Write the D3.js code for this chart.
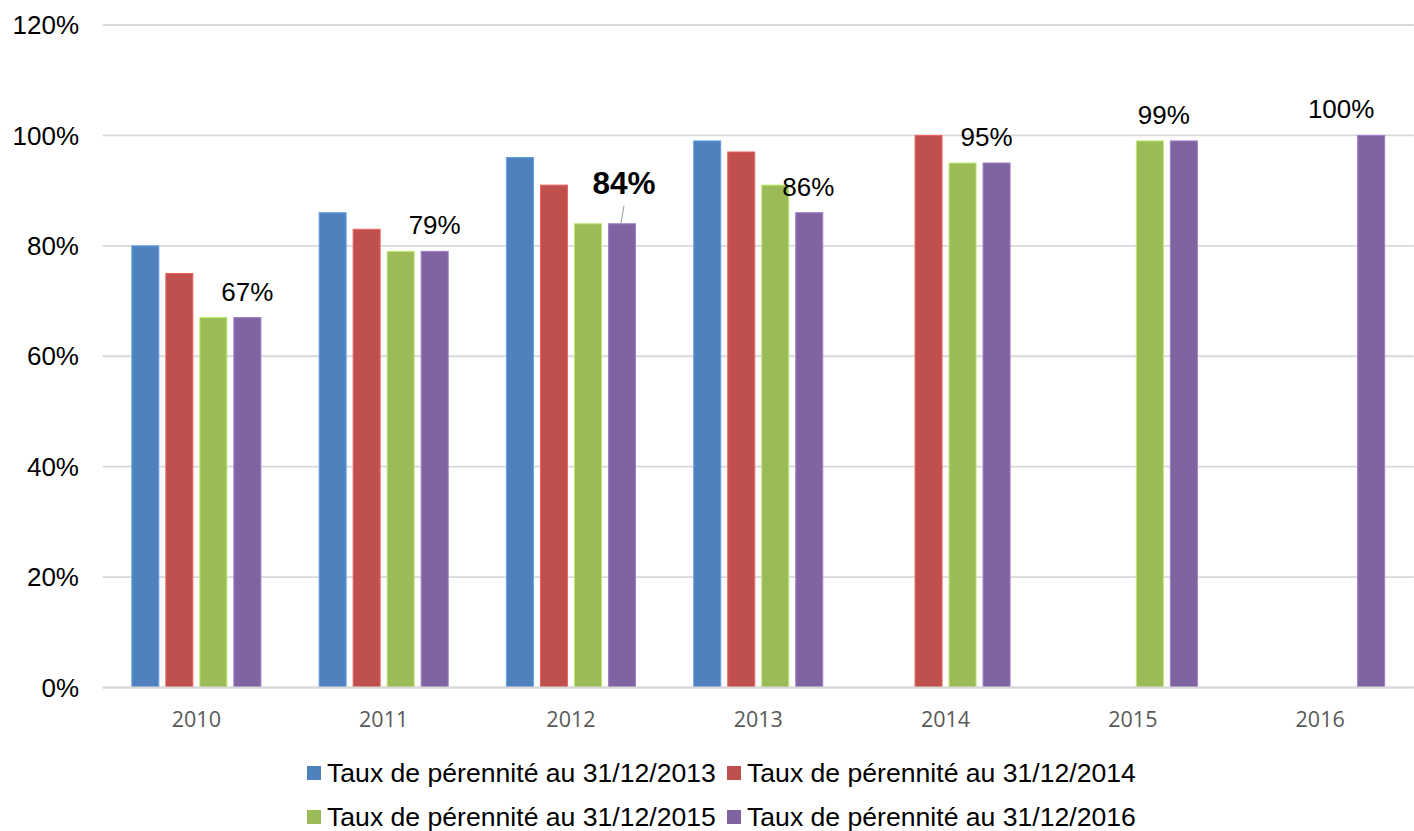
<!DOCTYPE html>
<html>
<head>
<meta charset="utf-8">
<script src="https://cdn.jsdelivr.net/npm/d3@7"></script>
<style>
  body { margin: 0; background: #fff; }
  svg { display: block; font-family: "Liberation Sans", Arial, sans-serif; }
</style>
</head>
<body>
<div id="chart"></div>
<script>
const years = ["2010", "2011", "2012", "2013", "2014", "2015", "2016"];
const seriesNames = [
  "Taux de pérennité au 31/12/2013",
  "Taux de pérennité au 31/12/2014",
  "Taux de pérennité au 31/12/2015",
  "Taux de pérennité au 31/12/2016"
];
const rate2013 = [0.80, 0.86, 0.96, 0.99, null, null, null];
const rate2014 = [0.75, 0.83, 0.91, 0.97, 1.00, null, null];
const rate2015 = [0.67, 0.79, 0.84, 0.91, 0.95, 0.99, null];
const rate2016 = [0.67, 0.79, 0.84, 0.86, 0.95, 0.99, 1.00];
const yTicks = [0, 0.2, 0.4, 0.6, 0.8, 1.0, 1.2];

const colors = ["#4F81BD", "#C0504D", "#9BBB59", "#8064A2"];
const allSeries = [rate2013, rate2014, rate2015, rate2016];

const width = 1414, height = 831;
const svg = d3.select("#chart").append("svg")
  .attr("width", width)
  .attr("height", height);

// scales
const x = d3.scaleBand()
  .domain(years)
  .range([102.7, 1413.8])
  .paddingInner(0.311)
  .paddingOuter(0.1555);

const xInner = d3.scaleBand()
  .domain(d3.range(4))
  .range([0, x.bandwidth()])
  .paddingInner(0.206);

const y = d3.scaleLinear()
  .domain([0, 1.2])
  .range([687.5, 25]);

const pct = d3.format(".0%");

// gridlines
svg.append("g")
  .selectAll("line")
  .data(yTicks)
  .enter().append("line")
  .attr("x1", 102.7)
  .attr("x2", 1413.8)
  .attr("y1", d => y(d))
  .attr("y2", d => y(d))
  .attr("stroke", "#d9d9d9")
  .attr("stroke-width", 1.8);

// y labels
svg.append("g")
  .selectAll("text")
  .data(yTicks)
  .enter().append("text")
  .attr("x", 79)
  .attr("y", d => y(d))
  .attr("dy", "0.35em")
  .attr("text-anchor", "end")
  .style("font-size", "26px")
  .attr("fill", "#000")
  .text(d => pct(d));

// bars
allSeries.forEach((vals, s) => {
  svg.append("g")
    .selectAll("rect")
    .data(years.map((yr, i) => ({ yr, v: vals[i] })).filter(d => d.v != null))
    .enter().append("rect")
    .attr("x", d => x(d.yr) + xInner(s))
    .attr("width", xInner.bandwidth())
    .attr("y", d => y(d.v))
    .attr("height", d => y(0) - y(d.v))
    .attr("fill", colors[s])
    .attr("stroke", d3.color(colors[s]).brighter(0.6))
    .attr("stroke-width", 1);
});

// data labels on the last series
const labelDx = [0, 0, 2, -1, -10, -20, -30];
const labelDy = [0, 0, -13, 0, 0, 0, 0];
const purpleX = i => x(years[i]) + xInner(3) + xInner.bandwidth() / 2;

rate2016.forEach((v, i) => {
  const cx = purpleX(i);
  const bold = i === 2;
  svg.append("text")
    .attr("x", cx + labelDx[i])
    .attr("y", y(v) - 17 + labelDy[i])
    .attr("text-anchor", "middle")
    .style("font-size", bold ? "31.5px" : "26px")
    .style("font-weight", bold ? "bold" : "normal")
    .text(pct(v));
  if (labelDy[i] !== 0) {
    svg.append("line")
      .attr("x1", cx + 2)
      .attr("y1", y(v) - 18)
      .attr("x2", cx - 1)
      .attr("y2", y(v))
      .attr("stroke", "#a6a6a6")
      .attr("stroke-width", 1.2);
  }
});

// x axis line + labels
svg.append("line")
  .attr("x1", 102.7)
  .attr("x2", 1413.8)
  .attr("y1", y(0))
  .attr("y2", y(0))
  .attr("stroke", "#d9d9d9")
  .attr("stroke-width", 1.8);

svg.append("g")
  .selectAll("text")
  .data(years)
  .enter().append("text")
  .attr("x", d => x(d) + x.bandwidth() / 2)
  .attr("y", 727)
  .attr("text-anchor", "middle")
  .style("font-family", "'Open Sans', sans-serif")
  .style("font-size", "21.5px")
  .attr("fill", "#595959")
  .text(d => d);

// legend (2 rows x 2 columns)
const legendX = [307, 727];
const legendY = [782, 826];
seriesNames.forEach((name, s) => {
  const g = svg.append("g")
    .attr("transform", `translate(${legendX[s % 2]},${legendY[Math.floor(s / 2)]})`);
  g.append("rect")
    .attr("x", 0)
    .attr("y", -16)
    .attr("width", 14)
    .attr("height", 14)
    .attr("fill", colors[s]);
  g.append("text")
    .attr("x", 20)
    .attr("y", 0)
    .style("font-size", "26.6px")
    .text(name);
});
</script>
</body>
</html>
